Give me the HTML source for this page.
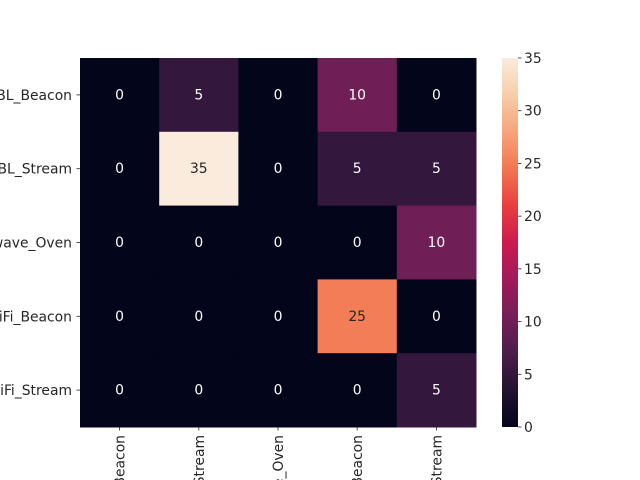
<!DOCTYPE html>
<html><head><meta charset="utf-8"><style>
html,body{margin:0;background:#fff;width:640px;height:480px;overflow:hidden}
svg{display:block}
svg text{font-family:"DejaVu Sans","Liberation Sans",sans-serif;font-size:13.9px;fill:#262626}
</style></head><body>
<svg id="c" width="640" height="480" xmlns="http://www.w3.org/2000/svg">
<defs><linearGradient id="rk" x1="0" y1="1" x2="0" y2="0">
<stop offset="0" stop-color="#03051A"/><stop offset="0.1" stop-color="#221331"/><stop offset="0.2" stop-color="#4C1D4B"/><stop offset="0.3" stop-color="#751F58"/><stop offset="0.4" stop-color="#A11A5B"/><stop offset="0.5" stop-color="#CB1B4F"/><stop offset="0.6" stop-color="#E83F3F"/><stop offset="0.7" stop-color="#F37651"/><stop offset="0.8" stop-color="#F6A47C"/><stop offset="0.9" stop-color="#F7CDA9"/><stop offset="1" stop-color="#FAEBDD"/>
</linearGradient></defs>
</svg>
<script>
const rowLabels=["BL_Beacon","BL_Stream","Microwave_Oven","WiFi_Beacon","WiFi_Stream"];
const colLabels=["BL_Beacon","BL_Stream","Microwave_Oven","WiFi_Beacon","WiFi_Stream"];
const values=[[0,5,0,10,0],[0,35,0,5,5],[0,0,0,0,10],[0,0,0,25,0],[0,0,0,0,5]];
const cbTicks=[0,5,10,15,20,25,30,35];
const vmax=35;
const svg=document.getElementById('c');const NS="http://www.w3.org/2000/svg";
const L=80,T=58,W=396,H=369;
const stops=[[0,[3,5,26]],[0.1,[34,19,49]],[0.2,[76,29,75]],[0.3,[117,31,88]],[0.4,[161,26,91]],[0.5,[203,27,79]],[0.6,[232,63,63]],[0.7,[243,118,81]],[0.8,[246,164,124]],[0.9,[247,205,169]],[1,[250,235,221]]];
function col(v){const t=Math.max(0,Math.min(1,v/vmax));for(let i=1;i<stops.length;i++){if(t<=stops[i][0]){const a=stops[i-1],b=stops[i],f=(t-a[0])/(b[0]-a[0]);const c=a[1].map((x,k)=>Math.round(x+(b[1][k]-x)*f));return{s:`rgb(${c})`,l:(0.2126*c[0]+0.7152*c[1]+0.0722*c[2])/255};}}return{s:'#FAEBDD',l:0.9};}
function mk(tag,a,txt){const e=document.createElementNS(NS,tag);for(const k in a)e.setAttribute(k,a[k]);if(txt!==undefined)e.textContent=txt;svg.appendChild(e);return e;}
const cw=W/colLabels.length,ch=H/rowLabels.length;
const xs=j=>L+j*cw, ys=i=>T+i*ch;
values.forEach((row,i)=>row.forEach((v,j)=>{
 const c=col(v);
 const r=mk('rect',{x:xs(j),y:ys(i),width:cw+0.5,height:ch+0.5,fill:c.s});
 
 
 const t=mk('text',{x:xs(j)+cw/2,y:ys(i)+ch/2+4.5,'text-anchor':'middle',style:'fill:'+(c.l>0.408?'#262626':'#fff')},v);
 
 
}));
rowLabels.forEach((s,i)=>{const y=ys(i)+ch/2;
 mk('line',{x1:L-3.5,x2:L,y1:y,y2:y,stroke:'#262626','stroke-width':0.8});
 const t=mk('text',{x:L-8,y:y+5,'text-anchor':'end'},s);
 
 });
colLabels.forEach((s,j)=>{const x=xs(j)+cw/2;
 mk('line',{x1:x,x2:x,y1:T+H,y2:T+H+3.5,stroke:'#262626','stroke-width':0.8});
 const t=mk('text',{x:0,y:0,'text-anchor':'end',transform:`translate(${x+5},${T+H+8}) rotate(-90)`},s);
 
 });
const CX=502,CW=16;
const cb=mk('rect',{x:CX,y:T,width:CW,height:H,fill:'url(#rk)'});


cbTicks.forEach(v=>{const y=T+H-v/vmax*H;
 mk('line',{x1:CX+CW,x2:CX+CW+3.5,y1:y,y2:y,stroke:'#262626','stroke-width':0.8});
 const t=mk('text',{x:CX+CW+6,y:y+5},v);
 
 });
</script>
</body></html>
